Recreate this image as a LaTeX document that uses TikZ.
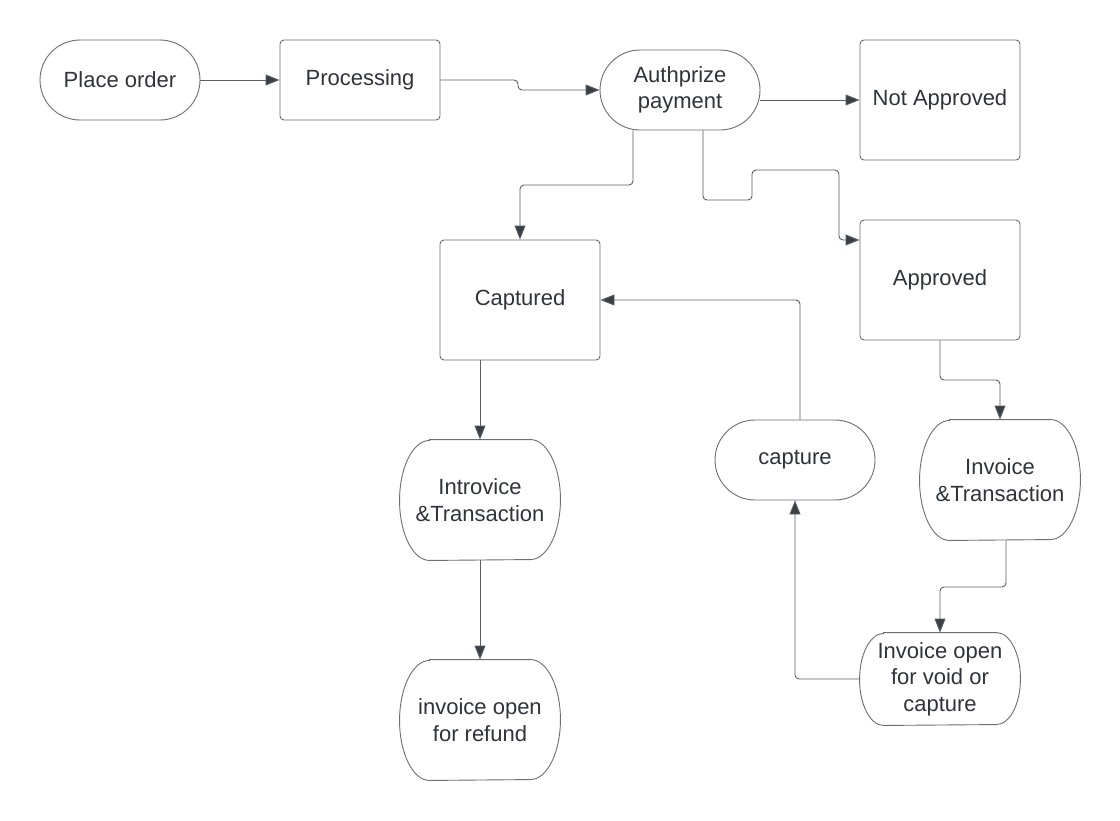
\documentclass[tikz,border=0pt]{standalone}
\usepackage{fontspec}
\setmainfont{Liberation Sans}
\usetikzlibrary{arrows.meta}
\definecolor{txt}{HTML}{2F333A}
\definecolor{edge}{HTML}{6A6E75}
\definecolor{wire}{HTML}{5A5E65}
\definecolor{tip}{HTML}{3A3E45}
\begin{document}
\begin{tikzpicture}[x=1pt,y=-1pt,
  box/.style={draw=edge, line width=0.9pt, rectangle, rounded corners=4pt, minimum width=160pt, inner sep=0pt, align=center, text=txt, font=\fontsize{22}{26.5}\selectfont},
  stadium/.style={box, rounded corners=40pt, minimum height=80pt},
  soft/.style={box, draw=none},
  outline/.style={draw=edge, line width=0.9pt},
  conn/.style={draw=wire, line width=0.9pt, rounded corners=4pt, -{Triangle[length=14pt,width=11pt,fill=tip]}}
]
\useasboundingbox (0,0) rectangle (1120,820);
\fill[white] (0,0) rectangle (1120,820);

\node[stadium] (place) at (120,80) {Place order};
\node[box, minimum height=80pt] (proc) at (360,80) {Processing};
\node[stadium] (auth) at (680,90) {Authprize\\payment};
\node[box, minimum height=120pt] (nap) at (940,100) {Not Approved};
\node[box, minimum height=120pt] (capd) at (520,300) {Captured};
\node[box, minimum height=120pt] (appr) at (940,280) {Approved};
\node[soft, minimum height=120pt] (intro) at (480,500) {Introvice\\\&Transaction};
\node[stadium] (capt) at (795,460) {capture};
\node[soft, minimum height=120pt] (inv) at (1000,480) {Invoice\\\&Transaction};
\node[soft, minimum height=120pt] (refund) at (480,720) {invoice open\\for refund};
\node[soft, minimum height=92pt] (void) at (940,679) {Invoice open\\for void or\\capture};

\foreach \n in {intro,inv,refund}{
  \draw[outline] ([xshift=30pt]\n.north west) -- ([xshift=-30pt]\n.north east)
    arc[start angle=-90,end angle=90,x radius=30,y radius=60]
    -- ([xshift=30pt]\n.south west)
    arc[start angle=90,end angle=270,x radius=30,y radius=60] -- cycle;
}
\draw[outline] ([xshift=24pt]void.north west) -- ([xshift=-24pt]void.north east)
    arc[start angle=-90,end angle=90,x radius=24,y radius=46]
    -- ([xshift=24pt]void.south west)
    arc[start angle=90,end angle=270,x radius=24,y radius=46] -- cycle;

\draw[conn] (place.east) -- (proc.west);
\draw[conn] (proc.east) -- (518,80) -- (518,90) -- (auth.west);
\draw[conn] ([yshift=-10pt]auth.east) -- (nap.west);
\draw[conn] ([xshift=-47pt]auth.south) -- (633,185) -| (capd.north);
\draw[conn] ([xshift=23pt]auth.south) -- (703,200) -- (752,200) -- (752,170) -- (839,170) -- (839,240) -- ([yshift=40pt]appr.west);
\draw[conn] ([xshift=-40pt]capd.south) -- (intro.north);
\draw[conn] (intro.south) -- (refund.north);
\draw[conn] (appr.south) -- (940,380) -| (inv.north);
\draw[conn] ([xshift=6pt]inv.south) -- (1006,587) -| (void.north);
\draw[conn] (void.west) -| (capt.south);
\draw[conn] ([xshift=5pt]capt.north) |- (capd.east);
\end{tikzpicture}
\end{document}
